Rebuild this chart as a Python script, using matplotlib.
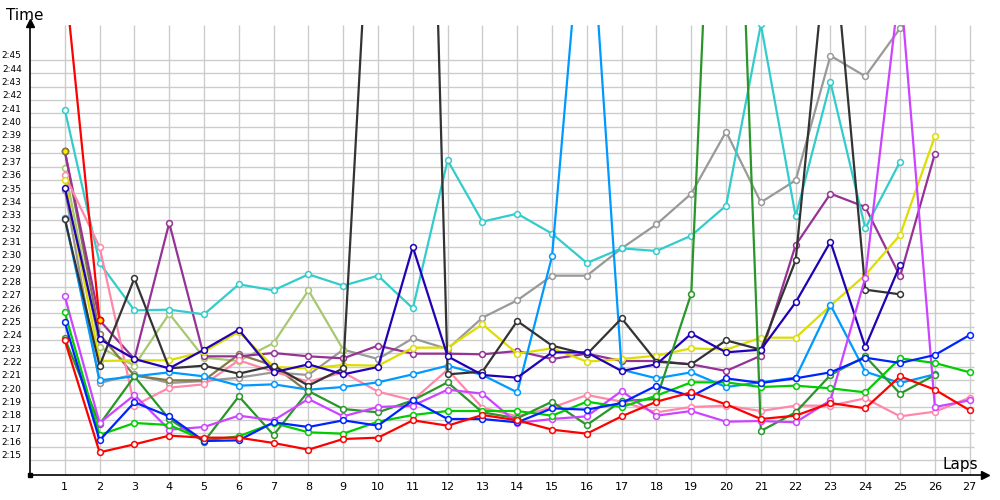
import numpy as np
import matplotlib
matplotlib.use("Agg")
import matplotlib.pyplot as plt

# lap times in seconds (2:23.6 -> 143.6), one list per car
laps = list(range(1, 28))

red = [143.6, 135.2, 135.8, 136.45, 136.3, 136.3, 135.9, 135.4, 136.2, 136.3, 137.6, 137.2, 138.0, 137.6,
       136.9, 136.6, 137.9, 139.0, 139.7, 138.8, 137.7, 137.95, 138.9, 138.5, 140.9, 139.9, 138.35]
red2 = [170.9, 145.1]
cyan = [160.9, 149.4, 145.85, 145.9, 145.55, 147.8, 147.35, 148.55, 147.7, 148.45, 146.0, 157.1, 152.5,
        153.1, 151.6, 149.4, 150.5, 150.3, 151.45, 153.7, 167.3, 152.9, 162.95, 152.0, 157.0]
pink = [156.0, 150.6, 138.7, 140.05, 140.3, 142.1, 141.25, 140.5, 141.2, 139.75, 139.1, 141.4, 138.55, 137.9,
        138.55, 139.5, 139.0, 138.2, 138.6, 138.7, 138.3, 138.7, 138.7, 139.25, 137.9, 138.25, 139.3]
magenta = [146.9, 137.4, 139.5, 136.9, 137.1, 137.95, 137.6, 139.2, 137.9, 138.6, 138.7, 139.9, 139.6, 137.4,
           137.7, 137.9, 139.8, 137.95, 138.3, 137.5, 137.55, 137.45, 139.1, 148.3, 170.5, 138.6, 139.1]
green = [145.7, 136.5, 137.4, 137.25, 136.1, 136.4, 137.4, 136.7, 136.6, 137.5, 138.0, 138.3, 138.3, 138.3,
         137.95, 139.0, 138.6, 139.45, 140.45, 140.45, 140.1, 140.2, 140.0, 139.7, 142.25, 141.9, 141.2]
blue = [144.95, 136.1, 138.95, 137.9, 136.05, 136.1, 137.45, 137.1, 137.6, 137.2, 139.1, 137.7, 137.7, 137.45,
        138.5, 138.4, 138.9, 140.2, 139.4, 140.75, 140.4, 140.75, 141.2, 142.3, 141.9, 142.5, 144.0]
dkgreen = [143.75, 137.3, 140.9, 137.7, 136.0, 139.4, 136.5, 139.8, 138.45, 138.2, 139.1, 140.45, 138.2, 137.75,
           139.0, 137.25, 139.05, 139.2, 147.1, 207.0, 136.8, 138.2, 141.0, 142.4, 139.6, 141.0]
indigo = [155.05, 143.7, 142.2, 141.5, 142.9, 144.4, 141.2, 141.8, 141.05, 141.6, 150.6, 142.4, 141.0, 140.8,
          142.7, 142.7, 141.3, 141.8, 144.1, 142.7, 142.9, 146.45, 151.0, 143.1, 149.25]
ltblue = [152.8, 140.6, 140.9, 141.2, 140.9, 140.2, 140.3, 139.9, 140.1, 140.45, 141.05, 141.7, 141.0, 139.7,
          149.9, 180.3, 141.4, 140.75, 141.2, 140.1, 140.45, 140.8, 146.25, 141.25, 140.4, 141.05]
black = [152.7, 141.7, 148.25, 141.5, 141.7, 141.1, 141.7, 140.2, 141.5, 188.7, 237.0, 141.05, 141.25, 145.05,
         143.2, 142.55, 145.25, 142.0, 141.8, 143.6, 142.9, 149.6, 176.2, 147.4, 147.05]
gray = [154.9, 140.4, 141.05, 140.4, 140.55, 140.8, 141.2, 141.0, 142.9, 142.2, 143.75, 142.95, 145.3, 146.6,
        148.45, 148.45, 150.5, 152.3, 154.6, 159.25, 153.95, 155.6, 164.95, 163.4, 167.0]
yellow = [155.6, 142.05, 142.1, 142.1, 142.75, 144.25, 141.6, 141.5, 141.75, 141.7, 143.05, 143.05, 144.8, 142.6,
          143.0, 142.0, 142.2, 142.45, 143.0, 142.9, 143.8, 143.8, 146.2, 148.5, 151.5, 158.9]
ltolive = [156.5, 143.1, 141.7, 145.6, 142.3, 142.05, 143.4, 147.35, 142.9]
olive = [157.8, 144.05, 140.95, 140.6, 140.6, 142.55, 141.7, 139.7]
purple = [157.8, 145.1, 142.2, 152.4, 142.4, 142.4, 142.65, 142.4, 142.25, 143.2, 142.6, 142.6, 142.55, 142.8,
          142.2, 142.6, 142.05, 142.05, 141.8, 141.3, 142.45, 150.75, 154.6, 153.6, 148.4, 157.6]

series = [
    (gray, "#999999"), (ltolive, "#a8c870"), (olive, "#857848"), (purple, "#963296"),
    (cyan, "#33cccc"), (pink, "#ff88aa"), (yellow, "#dddd00"), (ltblue, "#0099ff"),
    (black, "#333333"), (indigo, "#2200b4"), (dkgreen, "#2a962a"), (magenta, "#cc44ff"),
    (green, "#00cc00"), (blue, "#0022ff"), (red, "#ff0000"), (red2, "#ff0000"),
]
# markers drawn with yellow fill: (series, lap)
yellow_fill = [(olive, 1), (red2, 2)]

ylabels = list(range(135, 166))


def main():
    fig = plt.figure(figsize=(10, 5), dpi=100)
    ax = fig.add_axes([0.03, 0.05, 0.955, 0.9])
    ymin, ymax = 133.5, 167.25
    ax.set_xlim(0, 27.44)
    ax.set_ylim(ymin, ymax)

    # grid (the horizontal lines sit a bit under the labels, like the original)
    ax.hlines([v - 0.375 for v in ylabels], 0, 27.13, color="#cccccc", lw=1, zorder=0)
    ax.vlines(laps, ymin, ymax, color="#cccccc", lw=1, zorder=0)

    for vals, col in series:
        x = laps[:len(vals)]
        ax.plot(x, vals, color=col, lw=1.6, marker="o", ms=4.2, mfc="white",
                mec=col, mew=1.1, zorder=3)
    for vals, lap in yellow_fill:
        col = [c for v, c in series if v is vals][0]
        ax.plot([lap], [vals[lap - 1]], marker="o", ms=4.4, mfc="#ffee00", mec=col,
                mew=1.2, zorder=4)

    ax.set_xticks(laps)
    ax.set_xticklabels([str(l) for l in laps], fontsize=8)
    ax.set_yticks(ylabels)
    ax.set_yticklabels(["2:%02d" % (v - 120) for v in ylabels], fontsize=6.5)
    ax.tick_params(axis="y", length=0, pad=6)
    ax.tick_params(axis="x", length=0, pad=5)
    for s in ["top", "right"]:
        ax.spines[s].set_visible(False)
    ax.spines["left"].set_linewidth(1.2)
    ax.spines["bottom"].set_linewidth(1.2)
    ax.plot(0, 1.005, "^k", ms=6, transform=ax.transAxes, clip_on=False)
    ax.plot(1.0, 0, ">k", ms=6, transform=ax.transAxes, clip_on=False)
    ax.plot(0, 0, "sk", ms=3, transform=ax.transAxes, clip_on=False)

    fig.text(0.006, 0.97, "Time", fontsize=11, va="center")
    fig.text(0.943, 0.07, "Laps", fontsize=11, va="center")

    fig.savefig("out.png")


if __name__ == "__main__":
    main()
